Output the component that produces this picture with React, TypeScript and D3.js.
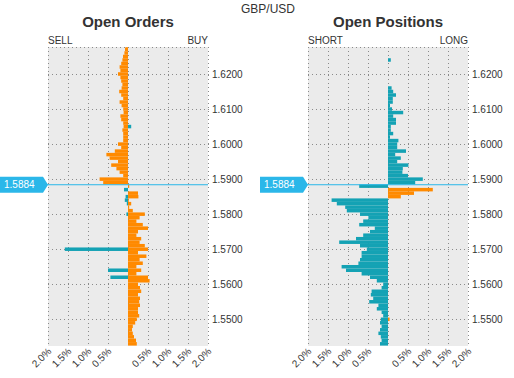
import React from "react";
import * as d3 from "d3";

const pair = "GBP/USD";
const currentPrice = 1.5884;
const bucketSize = 0.001;

const bucketPrices = [
  1.628, 1.627, 1.626, 1.625, 1.624, 1.623, 1.622, 1.621, 1.62, 1.619,
  1.618, 1.617, 1.616, 1.615, 1.614, 1.613, 1.612, 1.611, 1.61, 1.609,
  1.608, 1.607, 1.606, 1.605, 1.604, 1.603, 1.602, 1.601, 1.6, 1.599,
  1.598, 1.597, 1.596, 1.595, 1.594, 1.593, 1.592, 1.591, 1.59, 1.589,
  1.588, 1.587, 1.586, 1.585, 1.584, 1.583, 1.582, 1.581, 1.58, 1.579,
  1.578, 1.577, 1.576, 1.575, 1.574, 1.573, 1.572, 1.571, 1.57, 1.569,
  1.568, 1.567, 1.566, 1.565, 1.564, 1.563, 1.562, 1.561, 1.56, 1.559,
  1.558, 1.557, 1.556, 1.555, 1.554, 1.553, 1.552, 1.551, 1.55, 1.549,
  1.548, 1.547, 1.546, 1.545, 1.544, 1.543,
];

// Open Orders (percent, negative = sell side / left)
const ordersOrange = [
  -0.06, -0.075, -0.09, -0.125, -0.14, -0.17, -0.21, -0.19, -0.25, -0.19,
  -0.17, -0.14, -0.16, -0.22, -0.17, -0.12, -0.21, -0.16, -0.12, -0.11,
  -0.19, -0.17, -0.12, -0.11, -0.14, -0.12, -0.12, -0.12, -0.25, -0.17,
  -0.33, -0.54, -0.46, -0.25, -0.42, -0.29, -0.21, -0.12, -0.71, -0.62,
  0.03, 0, 0.25, 0.26, 0.02, 0.08, 0.03, 0.12, 0.42, 0.29,
  0.21, 0.37, 0.5, 0.25, 0.21, 0.33, 0.29, 0.42, 0.5, 0.25,
  0.46, 0.29, 0.37, 0.21, 0.33, 0.21, 0.5, 0.54, 0.25, 0.3,
  0.33, 0.25, 0.3, 0.28, 0.3, 0.25, 0.25, 0.28, 0.22, 0.18,
  0.12, 0.1, 0.12, 0.15, 0.2, 0.22,
];
const ordersTeal = [
  0, 0, 0, 0, 0, 0, 0, 0, 0, 0,
  0, 0, 0, 0, 0, 0, 0, 0, 0, 0,
  0, 0, 0, 0.08, 0, 0, 0, 0, 0, 0,
  0, 0, 0, 0, 0, 0, 0, 0, 0, 0,
  0, -0.1, 0, -0.06, -0.08, -0.03, 0, 0, -0.04, 0,
  0, 0, 0, 0, 0, 0, 0, 0, -1.58, 0,
  0, 0, 0, 0, -0.5, 0, -0.44, 0, 0, 0,
  0, 0, 0, 0, 0, 0, 0, 0, 0, 0,
  0, 0, 0, 0, 0, 0,
];

// Open Positions (percent, negative = short / left)
const positionsTeal = [
  0, 0, 0, 0, 0.07, 0, 0, 0, 0, 0,
  0, 0, 0.09, 0.13, 0.2, 0.12, 0.12, 0.05, 0.1, 0.38,
  0.13, 0.2, 0.2, 0.07, 0.07, 0.13, 0.05, 0.26, 0.23, 0.23,
  0.45, 0.18, 0.32, 0.23, 0.51, 0.37, 0.36, 0.5, 0.87, 0.68,
  -0.72, 0, 0, 0, -1.41, -1.28, -1.07, -1.03, -0.7, -0.49,
  -0.62, -0.72, -0.33, -0.45, -0.62, -0.8, -1.22, -0.7, -0.53, -0.66,
  -0.66, -0.7, -0.74, -1.16, -1.05, -0.66, -0.45, -0.28, -0.12, -0.16,
  -0.41, -0.43, -0.37, -0.47, -0.24, -0.28, -0.16, -0.12, -0.18, -0.2,
  -0.16, -0.2, -0.24, -0.18, -0.16, -0.2,
];
const positionsOrange = [
  0, 0, 0, 0, 0, 0, 0, 0, 0, 0,
  0, 0, 0, 0, 0, 0, 0, 0, 0, 0,
  0, 0, 0, 0, 0, 0, 0, 0, 0, 0,
  0, 0, 0, 0, 0, 0, 0, 0, 0, 0,
  0, 1.12, 0.65, 0.32, 0, 0, 0, 0, 0, 0,
  0, 0, 0, 0, 0, 0, 0, 0, 0, 0,
  0, 0, 0, 0, 0, 0, 0, 0, 0, 0,
  0, 0, 0, 0, 0, 0, 0, 0, 0.04, 0,
  0, 0, 0, 0, 0, 0,
];

const priceTicks = [1.62, 1.61, 1.6, 1.59, 1.58, 1.57, 1.56, 1.55];
const pctTicks = [-2, -1.5, -1, -0.5, 0.5, 1, 1.5, 2];
const gridPct = [-2, -1.5, -1, -0.5, 0, 0.5, 1, 1.5, 2];

const ORANGE = "#ff8a00";
const TEAL = "#14a2b4";
const CYAN = "#2bb7e9";
const FONT = "'Liberation Sans', Arial, sans-serif";

const W = 514;
const H = 378;
const plotTop = 47;
const plotBottom = 346;

const y = d3.scaleLinear().domain([1.62, 1.55]).range([74, 319.3]);

type PanelProps = {
  id: string;
  x0: number;
  x1: number;
  title: string;
  leftLabel: string;
  rightLabel: string;
  series: { values: number[]; color: string }[];
};

function Panel({ id, x0, x1, title, leftLabel, rightLabel, series }: PanelProps) {
  const x = d3.scaleLinear().domain([-2, 2]).range([x0, x1]);
  const cx = (x0 + x1) / 2;
  const py = y(currentPrice);
  const fmt = d3.format(".4f");
  return (
    <g>
      <defs>
        <clipPath id={`clip-${id}`}>
          <rect x={x0} y={plotTop} width={x1 - x0} height={plotBottom - plotTop} />
        </clipPath>
      </defs>
      <text x={cx} y={27} textAnchor="middle" fontSize={15} fontWeight="bold" fill="#333">
        {title}
      </text>
      <text x={x0} y={44} fontSize={10} fill="#333">{leftLabel}</text>
      <text x={x1} y={44} fontSize={10} fill="#333" textAnchor="end">{rightLabel}</text>
      <rect x={x0} y={plotTop} width={x1 - x0} height={plotBottom - plotTop} fill="#ebebeb" />
      {gridPct.map((g) => (
        <line key={`v${g}`} x1={x(g)} x2={x(g)} y1={plotTop} y2={plotBottom}
          stroke="#8a8a8a" strokeWidth={1} strokeDasharray="1,3" shapeRendering="crispEdges" />
      ))}
      <line x1={x0} x2={x1} y1={plotTop} y2={plotTop} stroke="#8a8a8a" strokeDasharray="1,3" shapeRendering="crispEdges" />
      {priceTicks.map((p) => (
        <g key={`h${p}`}>
          <line x1={x0} x2={x1 + 2} y1={Math.round(y(p)) + 0.5} y2={Math.round(y(p)) + 0.5}
            stroke="#8a8a8a" strokeDasharray="1,3" />
          <text x={x1 + 4} y={y(p)} dy="0.35em" fontSize={10} fill="#333">{fmt(p)}</text>
        </g>
      ))}
      <g clipPath={`url(#clip-${id})`}>
        {series.map((s, si) =>
          bucketPrices.map((p, i) => {
            const v = s.values[i];
            if (!v) return null;
            const yt = y(p + bucketSize / 2);
            const yb = y(p - bucketSize / 2);
            return (
              <rect key={`${si}-${i}`} x={Math.min(x(0), x(v))} width={Math.abs(x(v) - x(0))}
                y={yt} height={yb - yt} fill={s.color} />
            );
          })
        )}
      </g>
      {pctTicks.map((t) => (
        <text key={`t${t}`} transform={`translate(${x(t) + 4},${plotBottom + 6}) rotate(-45)`}
          textAnchor="end" fontSize={10} fill="#333">
          {`${d3.format(".1f")(Math.abs(t))}%`}
        </text>
      ))}
      <line x1={x0 - 40} x2={x1} y1={py} y2={py} stroke={CYAN} strokeWidth={1} />
      <path d={`M${x0 - 48},${py - 8}H${x0 - 5}L${x0},${py}L${x0 - 5},${py + 8}H${x0 - 48}Z`} fill={CYAN} />
      <text x={x0 - 44} y={py} dy="0.35em" fontSize={10} fill="#fff">{d3.format(".4f")(currentPrice)}</text>
    </g>
  );
}

export default function App() {
  return (
    <svg width={W} height={H} style={{ position: "absolute", left: 0, top: 0, background: "#fff" }}
      fontFamily={FONT}>
      <text x={268} y={13} textAnchor="middle" fontSize={12} fill="#333">{pair}</text>
      <Panel id="orders" x0={48} x1={208} title="Open Orders" leftLabel="SELL" rightLabel="BUY"
        series={[{ values: ordersOrange, color: ORANGE }, { values: ordersTeal, color: TEAL }]} />
      <Panel id="positions" x0={308} x1={468} title="Open Positions" leftLabel="SHORT" rightLabel="LONG"
        series={[{ values: positionsTeal, color: TEAL }, { values: positionsOrange, color: ORANGE }]} />
    </svg>
  );
}
